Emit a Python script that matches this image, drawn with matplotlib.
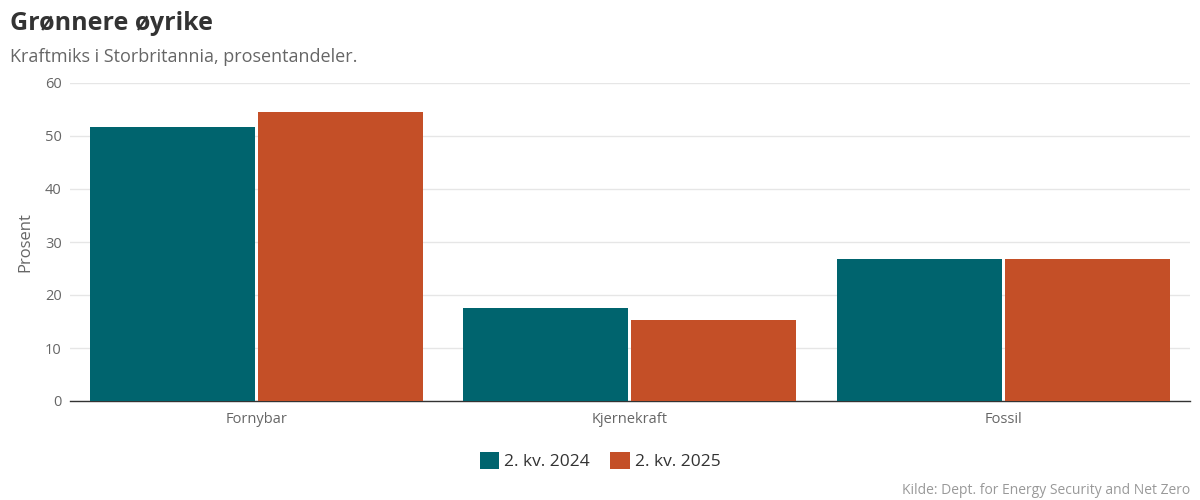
import numpy as np
import matplotlib.pyplot as plt
from matplotlib.patches import Patch

plt.rcParams['font.family'] = ['Open Sans', 'DejaVu Sans']

categories = ['Fornybar', 'Kjernekraft', 'Fossil']
series_names = ['2. kv. 2024', '2. kv. 2025']
values_2024 = [51.7, 17.5, 26.8]
values_2025 = [54.5, 15.3, 26.8]
colors = ['#00646e', '#c44f27']

fig = plt.figure(figsize=(12, 5), dpi=100)
ax = fig.add_axes([0.0583, 0.198, 0.9333, 0.636])

x = np.arange(len(categories))
w = 0.442
ax.bar(x - w / 2 - 0.004, values_2024, width=w, color=colors[0], zorder=3)
ax.bar(x + w / 2 + 0.004, values_2025, width=w, color=colors[1], zorder=3)

ax.set_xlim(-0.5, 2.5)
ax.set_ylim(0, 60)
ax.set_yticks(range(0, 61, 10))
ax.set_xticks(x)
ax.set_xticklabels(categories)
ax.grid(axis='y', color='#e6e6e6', linewidth=1, zorder=0)
for s in ['top', 'right', 'left']:
    ax.spines[s].set_visible(False)
ax.spines['bottom'].set_color('#333333')
ax.spines['bottom'].set_linewidth(1)
ax.tick_params(axis='both', length=0, labelsize=10.5, colors='#666666')
ax.tick_params(axis='x', pad=8)
ax.tick_params(axis='y', pad=6)
ax.set_ylabel('Prosent', fontsize=12, color='#666666')
ax.yaxis.set_label_coords(-0.033, 0.5)

fig.text(0.008, 0.94, 'Grønnere øyrike', fontsize=18, fontweight='bold',
         color='#333333', va='baseline')
fig.text(0.008, 0.876, 'Kraftmiks i Storbritannia, prosentandeler.', fontsize=13,
         color='#666666', va='baseline')

handles = [Patch(facecolor=c, label=n) for c, n in zip(colors, series_names)]
fig.legend(handles=handles, loc='center', bbox_to_anchor=(0.5, 0.078), ncol=2,
           frameon=False, fontsize=12.5, labelcolor='#333333',
           handlelength=1.1, handleheight=1.1, handletextpad=0.3, columnspacing=1.2)

fig.text(0.992, 0.012, 'Kilde: Dept. for Energy Security and Net Zero', fontsize=10,
         color='#999999', ha='right', va='baseline')

fig.savefig('out.png', dpi=100)
